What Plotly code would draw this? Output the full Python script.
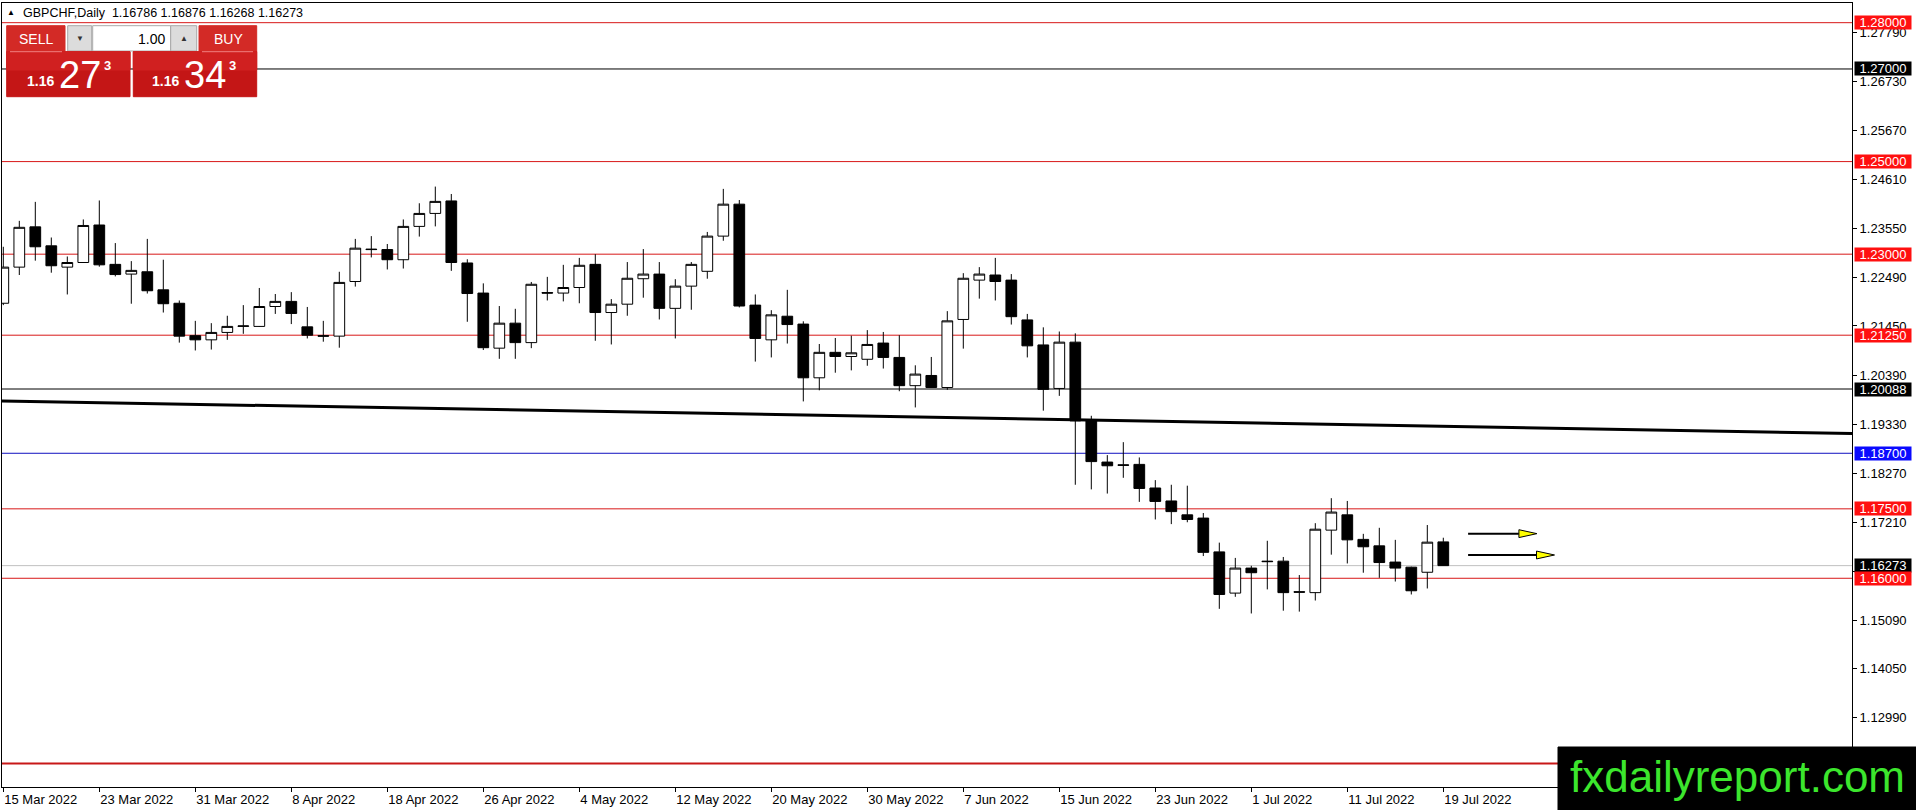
import plotly.graph_objects as go

# daily GBPCHF candles, 15 Mar 2022 .. 19 Jul 2022 (one per trading day)
opens = [1.2194, 1.2272, 1.2359, 1.2318, 1.2272, 1.2282, 1.2363, 1.2278, 1.2257, 1.2262,
         1.2223, 1.2194, 1.2124, 1.2115, 1.2131, 1.2144, 1.2144, 1.2187, 1.2198, 1.2143,
         1.2124, 1.2123, 1.2241, 1.2311, 1.2310, 1.2288, 1.2360, 1.2388, 1.2415, 1.2281,
         1.2216, 1.2097, 1.2151, 1.2109, 1.2217, 1.2216, 1.2228, 1.2278, 1.2174, 1.2192,
         1.2247, 1.2257, 1.2183, 1.2231, 1.2263, 1.2339, 1.2408, 1.2190, 1.2115, 1.2166,
         1.2149, 1.2033, 1.2088, 1.2079, 1.2073, 1.2108, 1.2077, 1.2016, 1.2038, 1.2012,
         1.2159, 1.2244, 1.2255, 1.2244, 1.2158, 1.2104, 1.2010, 1.2110, 1.1941, 1.1851,
         1.1845, 1.1846, 1.1795, 1.1767, 1.1737, 1.1730, 1.1657, 1.1568, 1.1622, 1.1637,
         1.1637, 1.1571, 1.1569, 1.1704, 1.1737, 1.1684, 1.1670, 1.1635, 1.1624, 1.1613,
         1.16786]
highs = [1.2316, 1.2372, 1.2413, 1.2336, 1.2295, 1.2375, 1.2416, 1.2324, 1.2285, 1.2333,
         1.2288, 1.2200, 1.2156, 1.2151, 1.2167, 1.2190, 1.2227, 1.2214, 1.2218, 1.2186,
         1.2156, 1.2262, 1.2333, 1.2339, 1.2322, 1.2375, 1.2410, 1.2446, 1.2430, 1.2289,
         1.2237, 1.2188, 1.2182, 1.2240, 1.2251, 1.2277, 1.2292, 1.2300, 1.2203, 1.2283,
         1.2311, 1.2283, 1.2246, 1.2283, 1.2348, 1.2441, 1.2417, 1.2213, 1.2179, 1.2223,
         1.2155, 1.2106, 1.2119, 1.2124, 1.2136, 1.2132, 1.2125, 1.2060, 1.2078, 1.2177,
         1.2259, 1.2272, 1.2292, 1.2257, 1.2171, 1.2142, 1.2133, 1.2129, 1.1951, 1.1866,
         1.1894, 1.1861, 1.1812, 1.1802, 1.1800, 1.1741, 1.1677, 1.1644, 1.1627, 1.1681,
         1.1646, 1.1607, 1.1719, 1.1773, 1.1767, 1.1696, 1.1709, 1.1683, 1.1625, 1.1715,
         1.16876]
lows = [1.2190, 1.2255, 1.2286, 1.2260, 1.2213, 1.2281, 1.2273, 1.2252, 1.2193, 1.2215,
        1.2174, 1.2109, 1.2092, 1.2094, 1.2115, 1.2128, 1.2143, 1.2171, 1.2149, 1.2118,
        1.2111, 1.2098, 1.2230, 1.2293, 1.2267, 1.2269, 1.2338, 1.2360, 1.2264, 1.2154,
        1.2093, 1.2074, 1.2074, 1.2097, 1.2200, 1.2198, 1.2194, 1.2113, 1.2105, 1.2167,
        1.2206, 1.2159, 1.2118, 1.2180, 1.2247, 1.2329, 1.2185, 1.2068, 1.2077, 1.2107,
        1.1982, 1.2006, 1.2044, 1.2049, 1.2059, 1.2053, 1.2004, 1.1969, 1.2012, 1.2007,
        1.2096, 1.2204, 1.2200, 1.2148, 1.2077, 1.1962, 1.1994, 1.1802, 1.1792, 1.1783,
        1.1817, 1.1765, 1.1727, 1.1717, 1.1721, 1.1648, 1.1534, 1.1560, 1.1524, 1.1576,
        1.1530, 1.1528, 1.1552, 1.1651, 1.1632, 1.1612, 1.1601, 1.1593, 1.1565, 1.1578,
        1.16268]
closes = [1.2272, 1.2358, 1.2316, 1.2275, 1.2282, 1.2362, 1.2277, 1.2256, 1.2265, 1.2221,
          1.2193, 1.2123, 1.2115, 1.2131, 1.2144, 1.2145, 1.2187, 1.2198, 1.2172, 1.2125,
          1.2123, 1.2239, 1.2313, 1.2310, 1.2288, 1.2360, 1.2388, 1.2414, 1.2282, 1.2215,
          1.2098, 1.2151, 1.2109, 1.2235, 1.2216, 1.2228, 1.2276, 1.2174, 1.2192, 1.2248,
          1.2257, 1.2183, 1.2231, 1.2278, 1.2339, 1.2408, 1.2188, 1.2118, 1.2169, 1.2148,
          1.2033, 1.2088, 1.2079, 1.2087, 1.2105, 1.2077, 1.2016, 1.2041, 1.2012, 1.2156,
          1.2248, 1.2257, 1.2241, 1.2165, 1.2102, 1.2008, 1.2110, 1.1940, 1.1852, 1.1843,
          1.1844, 1.1794, 1.1766, 1.1744, 1.1727, 1.1656, 1.1565, 1.1622, 1.1612, 1.1636,
          1.1569, 1.1570, 1.1706, 1.1743, 1.1683, 1.1668, 1.1634, 1.1622, 1.1573, 1.1678,
          1.16273]

date_ticks = ["15 Mar 2022", "23 Mar 2022", "31 Mar 2022", "8 Apr 2022", "18 Apr 2022",
              "26 Apr 2022", "4 May 2022", "12 May 2022", "20 May 2022", "30 May 2022",
              "7 Jun 2022", "15 Jun 2022", "23 Jun 2022", "1 Jul 2022", "11 Jul 2022",
              "19 Jul 2022"]
tick_step = 6

price_ticks = [1.2779, 1.2673, 1.2567, 1.2461, 1.2355, 1.2249, 1.2145, 1.2039,
               1.1933, 1.1827, 1.1721, 1.1615, 1.1509, 1.1405, 1.1299]

# horizontal levels drawn on the chart
level_prices = [1.28, 1.27, 1.25, 1.23, 1.2125, 1.20088, 1.187, 1.175, 1.16273, 1.16, 1.12]
level_lines = ["#d81818", "#000000", "#d81818", "#d81818", "#d81818", "#000000",
               "#1010c0", "#d81818", "#c0c0c0", "#d81818", "#c81818"]
level_boxes = ["#ff1010", "#000000", "#ff1010", "#ff1010", "#ff1010", "#000000",
               "#0a0aff", "#ff1010", "#000000", "#ff1010", None]

# sloping trend line (bar index, price)
trend_bars = [0, 115]
trend_prices = [1.1983, 1.1913]

# the two yellow arrows: price, start bar, tip bar
arrow_prices = [1.16964, 1.16503]
arrow_start = [91.55, 91.55]
arrow_tip = [95.85, 96.95]

bid, ask = 1.16273, 1.16343

# pixel frame of the plotting area
W, H = 1916, 810
PL, PR, PT, PB = 2, 1852, 3, 787
BAR_PX = 16.0
X0 = 3.3  # pixel of bar 0


def px(x):
    return (x - PL) / (PR - PL)


def py(y):
    return (PB - y) / (PB - PT)


n = len(opens)
bars = list(range(n))
xr = [(PL - X0) / BAR_PX, (PR - X0) / BAR_PX]

fig = go.Figure()
fig.add_trace(go.Candlestick(
    x=bars, open=opens, high=highs, low=lows, close=closes,
    increasing=dict(line=dict(color="black", width=1), fillcolor="white"),
    decreasing=dict(line=dict(color="black", width=1), fillcolor="black"),
    whiskerwidth=0, hoverinfo="skip", showlegend=False,
))

shapes = []
for p, c in zip(level_prices, level_lines):
    shapes.append(dict(type="line", xref="paper", yref="y", x0=0, x1=1, y0=p, y1=p,
                       line=dict(color=c, width=2 if p == 1.12 else 1), layer="below"))

slope = (trend_prices[1] - trend_prices[0]) / (trend_bars[1] - trend_bars[0])
tx0, tx1 = xr[0] - 1, xr[1] + 1
shapes.append(dict(type="line", xref="x", yref="y",
                   x0=tx0, y0=trend_prices[0] + slope * (tx0 - trend_bars[0]),
                   x1=tx1, y1=trend_prices[0] + slope * (tx1 - trend_bars[0]),
                   line=dict(color="black", width=3), layer="below"))

head_len = 18 / BAR_PX
head_h = 0.00085
for p, s, t in zip(arrow_prices, arrow_start, arrow_tip):
    shapes.append(dict(type="line", xref="x", yref="y", x0=s, x1=t - head_len, y0=p, y1=p,
                       line=dict(color="black", width=2)))
    b = t - head_len
    shapes.append(dict(type="path", xref="x", yref="y",
                       path=f"M {b},{p - head_h} L {t},{p} L {b},{p + head_h} Z",
                       fillcolor="#ffff00", line=dict(color="black", width=1)))


def rect(x0, y0, x1, y1, fill, line=None):
    shapes.append(dict(type="rect", xref="paper", yref="paper",
                       x0=px(x0), x1=px(x1), y0=py(y1), y1=py(y0),
                       fillcolor=fill, line=dict(color=line or fill, width=1), layer="above"))


# one-click trading panel
rect(6.7, 25.7, 65, 51.7, "#d32a26")
rect(199, 25.7, 256.7, 51.7, "#d32a26")
rect(67.7, 25.7, 91.7, 51, "#dcdcdc", "#a8a8a8")
rect(92.7, 25.7, 170.7, 51, "#ffffff", "#a8a8a8")
rect(170.7, 25.7, 196.7, 51, "#dcdcdc", "#a8a8a8")
rect(6.7, 51.7, 130, 96.7, "#c41616")
rect(133.3, 51.7, 256.7, 96.7, "#c41616")
rect(6.7, 51.7, 130, 70, "#d02020")
rect(133.3, 51.7, 256.7, 70, "#d02020")
shapes.append(dict(type="line", xref="paper", yref="paper", x0=px(10), x1=px(62),
                   y0=py(51.7), y1=py(51.7), line=dict(color="#f08080", width=1), layer="above"))
shapes.append(dict(type="line", xref="paper", yref="paper", x0=px(202), x1=px(253),
                   y0=py(51.7), y1=py(51.7), line=dict(color="#f08080", width=1), layer="above"))

# logo box
rect(1558, 747, 1920, 814, "#000000")

ann = []
FONT = "Liberation Sans, Arial, sans-serif"


def text(x, y, s, size, color="black", xanchor="left", yanchor="middle", bold=False):
    ann.append(dict(xref="paper", yref="paper", x=px(x), y=py(y), text=f"<b>{s}</b>" if bold else s,
                    showarrow=False, xanchor=xanchor, yanchor=yanchor,
                    font=dict(family=FONT, size=size, color=color)))


text(5, 13, "▲", 8)
text(21, 13, f"GBPCHF,Daily  {opens[-1]:.5f} {highs[-1]:.5f} {lows[-1]:.5f} {closes[-1]:.5f}", 12.5)
text(36, 38.5, "SELL", 14, "white", "center")
text(228, 38.5, "BUY", 14, "white", "center")
text(79.7, 38.5, "▼", 8, "#333333", "center")
text(183.7, 38.5, "▲", 8, "#333333", "center")
text(167, 38.5, "1.00", 14, "black", "right")


def price_box(x, value):
    s = f"{value:.5f}"
    text(x, 81, s[:4], 14, "white", bold=True)
    text(x + 32, 75, s[4:6], 38, "white")
    text(x + 77, 65, s[6], 13, "white", bold=True)


price_box(25, bid)
price_box(150, ask)

text(1737, 776, "fxdailyreport.com", 44, "#3ce62d", "center")

# price level tags on the right axis
for p, c in zip(level_prices, level_boxes):
    if c is None:
        continue
    ann.append(dict(xref="paper", yref="y", x=1, y=p, xanchor="left", xshift=2,
                    text=f"{p:.5f}", showarrow=False, bgcolor=c, width=56, height=13,
                    borderpad=0, font=dict(family=FONT, size=13, color="white")))

fig.update_layout(
    width=W, height=H,
    margin=dict(l=PL, r=W - PR, t=PT, b=H - PB),
    paper_bgcolor="white", plot_bgcolor="white",
    boxgap=0.33, boxgroupgap=0,
    shapes=shapes, annotations=ann,
    showlegend=False,
    xaxis=dict(range=xr, showgrid=False, zeroline=False, rangeslider=dict(visible=False),
               tickvals=bars[::tick_step], ticktext=date_ticks,
               ticks="outside", ticklen=4, tickcolor="black",
               ticklabelposition="outside right",
               showline=True, mirror=True, linecolor="black", linewidth=1,
               tickfont=dict(family=FONT, size=13, color="black")),
    yaxis=dict(range=[1.11492, 1.28425], side="right", showgrid=False, zeroline=False,
               tickvals=price_ticks, tickformat=".5f",
               ticks="outside", ticklen=4, tickcolor="black",
               showline=True, mirror=True, linecolor="black", linewidth=1,
               tickfont=dict(family=FONT, size=13, color="black")),
)

fig.write_html("out.html", config={"displayModeBar": False},
               post_script="document.body.style.margin='0';document.body.style.overflow='hidden';")
